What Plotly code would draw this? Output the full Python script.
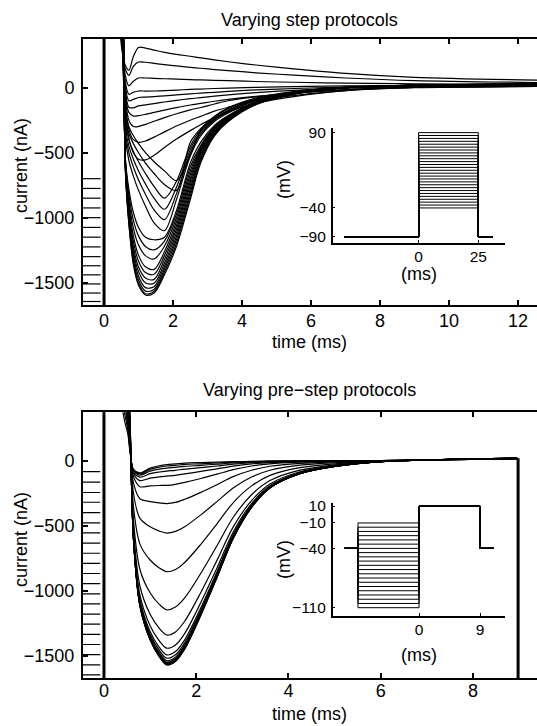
import plotly.graph_objects as go

# ---------------- data: top panel (varying step protocols) ----------------
step_time = [0.40, 0.50, 0.56, 0.62, 0.72, 0.85, 1.0, 1.2, 1.45, 1.75, 2.1, 2.5,
             2.8, 3.2, 3.6, 4.4, 5.5, 7.0, 9.0, 12.6]
step_currents = [
    [900, 330, 230, 170, 135, 240, 310, 305, 290, 272, 257, 242, 230, 214, 200, 175, 145, 110, 80, 58],
    [1000, 380, 230, 140, 95, 165, 198, 196, 188, 178, 168, 157, 150, 140, 132, 115, 97, 75, 55, 40],
    [1100, 420, 220, 90, 15, 50, 75, 75, 72, 69, 66, 62, 60, 57, 54, 48, 42, 35, 30, 25],
    [1200, 460, 210, 40, -50, -35, -25, -26, -25, -22, -18, -13, -10, -6, -3, 3, 8, 14, 18, 20],
    [1300, 500, 200, 10, -100, -90, -75, -72, -68, -62, -55, -47, -42, -35, -28, -17, -6, 5, 12, 16],
    [1400, 540, 200, -20, -150, -155, -140, -132, -122, -110, -97, -84, -76, -65, -55, -38, -20, -3, 8, 14],
    [1500, 580, 200, -50, -190, -218, -215, -205, -190, -172, -153, -133, -121, -104, -90, -67, -43, -15, 3, 12],
    [1600, 620, 200, -80, -250, -298, -298, -282, -258, -230, -200, -170, -152, -125, -100, -70, -42, -15, 2, 10],
    [1700, 660, 190, -120, -320, -400, -420, -410, -380, -340, -295, -250, -220, -180, -150, -100, -60, -22, 0, 10],
    [1800, 700, 180, -160, -390, -500, -550, -555, -520, -460, -395, -330, -285, -230, -185, -120, -68, -22, 2, 10],
    [1900, 740, 170, -180, -300, -370, -430, -500, -570, -640, -715, -520, -330, -220, -155, -80, -30, 2, 17, 24],
    [2000, 780, 160, -220, -350, -430, -500, -580, -660, -745, -790, -420, -315, -228, -162, -85, -33, 2, 17, 24],
    [2100, 820, 150, -260, -400, -490, -570, -660, -760, -850, -720, -450, -325, -238, -172, -88, -34, 2, 17, 25],
    [2200, 860, 140, -300, -450, -550, -640, -740, -850, -935, -765, -475, -340, -245, -180, -92, -36, 2, 18, 25],
    [2300, 900, 130, -340, -500, -610, -710, -820, -940, -1015, -815, -500, -355, -250, -185, -95, -37, 2, 18, 26],
    [2400, 940, 120, -380, -560, -680, -790, -910, -1040, -1100, -860, -525, -370, -260, -195, -100, -40, 2, 18, 26],
    [2500, 1300, 600, -650, -1050, -1360, -1520, -1595, -1580, -1440, -1220, -860, -580, -370, -260, -130, -50, 0, 20, 30],
    [2480, 1280, 580, -640, -1040, -1345, -1505, -1585, -1568, -1420, -1195, -832, -562, -362, -255, -128, -49, 0, 20, 30],
    [2460, 1260, 560, -630, -1020, -1320, -1480, -1565, -1552, -1398, -1168, -805, -545, -355, -251, -126, -48, 0, 20, 29],
    [2440, 1240, 540, -620, -1000, -1290, -1450, -1538, -1532, -1375, -1142, -778, -528, -347, -247, -124, -48, 0, 20, 29],
    [2420, 1220, 520, -610, -980, -1260, -1415, -1502, -1505, -1350, -1115, -750, -510, -340, -242, -121, -47, 0, 19, 28],
    [2400, 1200, 500, -600, -955, -1225, -1380, -1465, -1475, -1322, -1088, -722, -495, -332, -238, -119, -46, 0, 19, 28],
    [2380, 1180, 480, -590, -930, -1185, -1335, -1422, -1435, -1292, -1060, -695, -482, -323, -233, -117, -45, 0, 19, 27],
    [2360, 1160, 460, -580, -900, -1140, -1290, -1378, -1398, -1262, -1030, -668, -470, -315, -229, -115, -45, 0, 18, 27],
    [2340, 1140, 440, -570, -860, -1080, -1210, -1292, -1318, -1220, -1000, -640, -458, -308, -224, -113, -44, 0, 18, 26],
    [2320, 1120, 420, -560, -820, -1020, -1140, -1222, -1248, -1180, -972, -610, -445, -300, -219, -110, -43, 0, 18, 26],
    [2300, 1100, 400, -550, -780, -960, -1075, -1150, -1170, -1150, -945, -580, -420, -290, -214, -108, -42, 0, 17, 25],
]
step_base_time = [-0.61, -0.10]
step_base_levels = [-700, -775, -850, -925, -1000, -1075, -1150, -1225, -1300,
                    -1370, -1440, -1510, -1580, -1645]
step_onset_time = 0.0

# ---------------- data: bottom panel (varying pre-step protocols) ----------------
pre_time = [0.35, 0.45, 0.52, 0.57, 0.64, 0.78, 1.0, 1.2, 1.36, 1.55, 1.75, 2.1, 2.45,
            2.8, 3.2, 3.6, 4.25, 5.0, 6.0, 7.5, 8.96]
pre_currents = [
    [2500, 1500, 800, 250, -610, -1120, -1380, -1510, -1572, -1545, -1450, -1190, -900, -600, -360, -210, -100, -45, -8, 10, 18],
    [2400, 1440, 770, 240, -608, -1117, -1376, -1506, -1567, -1540, -1446, -1186, -897, -598, -359, -209, -100, -45, -8, 10, 18],
    [2300, 1380, 740, 230, -607, -1115, -1373, -1503, -1564, -1537, -1443, -1184, -896, -597, -358, -209, -100, -45, -8, 10, 18],
    [2200, 1320, 710, 220, -605, -1112, -1369, -1498, -1560, -1533, -1438, -1180, -893, -595, -357, -208, -99, -45, -8, 10, 18],
    [2100, 1260, 680, 210, -604, -1109, -1365, -1494, -1555, -1528, -1434, -1177, -890, -593, -356, -208, -99, -45, -8, 10, 18],
    [2000, 1200, 650, 200, -602, -1104, -1360, -1488, -1549, -1522, -1428, -1172, -887, -591, -355, -207, -99, -44, -8, 10, 18],
    [1900, 1140, 620, 190, -598, -1097, -1350, -1477, -1538, -1511, -1418, -1164, -880, -587, -352, -205, -98, -44, -8, 10, 18],
    [1800, 1080, 590, 180, -591, -1085, -1334, -1459, -1519, -1493, -1401, -1150, -869, -580, -348, -203, -97, -43, -8, 10, 18],
    [1700, 1020, 560, 170, -582, -1068, -1313, -1436, -1494, -1468, -1378, -1131, -855, -570, -342, -200, -95, -43, -8, 10, 18],
    [1600, 960, 530, 160, -564, -1034, -1269, -1386, -1442, -1417, -1330, -1091, -825, -550, -330, -193, -92, -41, -7, 10, 18],
    [1500, 900, 500, 150, -529, -966, -1182, -1290, -1341, -1317, -1235, -1014, -767, -511, -307, -179, -85, -38, -7, 10, 18],
    [1400, 840, 470, 140, -460, -837, -1016, -1105, -1147, -1126, -1056, -866, -655, -437, -262, -153, -73, -33, -6, 9, 17],
    [1300, 780, 440, 130, -357, -642, -764, -825, -854, -837, -783, -643, -486, -324, -194, -113, -54, -24, -4, 9, 17],
    [1200, 720, 410, 120, -253, -444, -509, -542, -557, -544, -508, -417, -315, -210, -126, -74, -35, -16, -3, 9, 16],
    [1100, 660, 380, 110, -173, -293, -315, -325, -330, -321, -297, -244, -185, -123, -74, -43, -21, -9, -2, 8, 16],
    [1000, 600, 350, 100, -123, -200, -194, -191, -190, -182, -167, -137, -104, -69, -41, -24, -12, -5, -1, 8, 15],
    [900, 540, 320, 90, -98, -153, -134, -124, -119, -113, -102, -83, -63, -42, -25, -15, -7, -3, 0, 8, 15],
    [800, 480, 290, 80, -85, -127, -100, -87, -80, -74, -65, -54, -41, -27, -16, -9, -5, -2, 0, 8, 15],
    [700, 420, 260, 70, -77, -111, -80, -65, -57, -51, -44, -36, -27, -18, -11, -6, -3, -1, 0, 8, 15],
    [600, 360, 230, 60, -71, -101, -67, -50, -41, -36, -29, -24, -18, -12, -7, -4, -2, -1, 0, 8, 15],
    [500, 300, 200, 50, -67, -94, -57, -39, -30, -25, -19, -15, -12, -8, -5, -3, -1, 0, 0, 8, 15],
]
pre_base_time = [-0.455, -0.08]
pre_base_levels = [-85, -165, -245, -320, -400, -478, -556, -634, -712, -790, -868,
                   -946, -1024, -1102, -1180, -1258, -1336, -1414, -1492, -1570, -1648]
pre_onset_time = 0.0
pre_offset_time = 8.98
pre_offset_level = 18

# ---------------- data: insets (voltage protocols) ----------------
step_hold = -90                       # mV
step_levels = [-40, -35, -30, -25, -20, -15, -10, -5, 0, 5, 10, 15, 20, 25, 30,
               35, 40, 45, 50, 55, 60, 65, 70, 75, 80, 85, 90]
step_protocol_t = [-31, 0, 25, 31]    # ms: start, step on, step off, end

pre_hold = -40
pre_test = 10
prestep_levels = [-110, -105, -100, -95, -90, -85, -80, -75, -70, -65, -60, -55,
                  -50, -45, -40, -35, -30, -25, -20, -15, -10]
pre_protocol_t = [-11, -9, 0, 9, 11]  # ms

# axis ticks
main_yticks = [0, -500, -1000, -1500]
top_xticks = [0, 2, 4, 6, 8, 10, 12]
bot_xticks = [0, 2, 4, 6, 8]

# ---------------- figure ----------------
W, H = 537, 726
FONT = "Liberation Sans, Arial, Helvetica, sans-serif"
FS = 18
FS_IN = 15.5
fig = go.Figure()

line_kw = dict(color="black", width=1.2, shape="spline", smoothing=0.9)
plain = dict(color="black", width=1.2)


def add(x, y, xa, ya, line):
    fig.add_trace(go.Scatter(x=x, y=y, xaxis=xa, yaxis=ya, mode="lines",
                             line=line, hoverinfo="skip", showlegend=False))


# top main
for lvl in step_base_levels:
    add(step_base_time, [lvl, lvl], "x", "y", plain)
add([step_onset_time, step_onset_time], [-2000, 2000], "x", "y", dict(color="black", width=3))
for cur in step_currents:
    add(step_time, cur, "x", "y", line_kw)

# bottom main
for lvl in pre_base_levels:
    add(pre_base_time, [lvl, lvl], "x2", "y2", plain)
add([pre_onset_time, pre_onset_time], [-2000, 2000], "x2", "y2", dict(color="black", width=3))
add([pre_offset_time, pre_offset_time], [pre_offset_level, -2000], "x2", "y2", dict(color="black", width=3))
for cur in pre_currents:
    add(pre_time, cur, "x2", "y2", line_kw)

# top inset: step protocol
t0, ton, toff, tend = step_protocol_t
for v in step_levels:
    add([t0, ton, ton, toff, toff, tend], [step_hold, step_hold, v, v, step_hold, step_hold],
        "x3", "y3", dict(color="black", width=1))

# bottom inset: pre-step protocol
p0, pon, ptest, poff, pend = pre_protocol_t
for v in prestep_levels:
    add([p0, pon, pon, ptest, ptest, poff, poff, pend],
        [pre_hold, pre_hold, v, v, pre_test, pre_test, pre_hold, pre_hold],
        "x4", "y4", dict(color="black", width=1))

X0 = 83 / W
main_ax = dict(showline=True, linecolor="black", linewidth=2, ticks="inside", ticklen=5,
               tickwidth=1.5, tickcolor="black", showgrid=False, zeroline=False,
               automargin=False, tickfont=dict(size=FS, family=FONT, color="black"))
inset_ax = dict(showline=True, linecolor="black", linewidth=1.5, ticks="inside", ticklen=3,
                tickwidth=1.2, tickcolor="black", showgrid=False, zeroline=False,
                automargin=False, tickfont=dict(size=FS_IN, family=FONT, color="black"))
right_ax = dict(showline=False, ticks="inside", ticklen=5, tickwidth=1.5, tickcolor="black",
                showticklabels=False, showgrid=False, zeroline=False, automargin=False)


def py(y):
    return 1 - y / H


fig.update_layout(
    width=W, height=H, margin=dict(l=0, r=0, t=0, b=0),
    paper_bgcolor="white", plot_bgcolor="rgba(0,0,0,0)", showlegend=False,
    font=dict(family=FONT, size=FS, color="black"),
    xaxis=dict(main_ax, domain=[X0, 1], anchor="y", range=[-0.61, 12.55],
               tickvals=top_xticks, mirror="ticks", ticklabelstandoff=-2),
    yaxis=dict(main_ax, domain=[py(305), py(39)], anchor="x", range=[-1672, 375],
               tickvals=main_yticks, ticklabelstandoff=3),
    xaxis2=dict(main_ax, domain=[X0, 1], anchor="y2", range=[-0.455, 9.39],
                tickvals=bot_xticks, mirror="ticks", ticklabelstandoff=-5),
    yaxis2=dict(main_ax, domain=[py(678.3), py(412.3)], anchor="x2", range=[-1674, 372],
                tickvals=main_yticks, ticklabelstandoff=3),
    xaxis3=dict(inset_ax, domain=[332.7 / W, 505 / W], anchor="y3", range=[-36, 36.2],
                tickvals=[0, 25], ticklabelstandoff=-1),
    yaxis3=dict(inset_ax, domain=[py(242.7), py(128)], anchor="x3", range=[-100, 98],
                tickvals=[-90, -40, 90], ticklabelstandoff=2),
    xaxis4=dict(inset_ax, domain=[332.7 / W, 505 / W], anchor="y4", range=[-12.73, 12.68],
                tickvals=[0, 9], ticklabelstandoff=-1),
    yaxis4=dict(inset_ax, domain=[py(616), py(502.7)], anchor="x4", range=[-119.8, 13.9],
                tickvals=[-110, -40, -10, 10], ticklabelstandoff=2),
    yaxis5=dict(right_ax, overlaying="y", side="right", anchor="x", range=[-1672, 375],
                tickvals=main_yticks),
    yaxis6=dict(right_ax, overlaying="y2", side="right", anchor="x2", range=[-1674, 372],
                tickvals=main_yticks),
)

annots = [
    ("Varying step protocols", 310, 20, 0, FS),
    ("Varying pre\u2212step protocols", 310, 390, 0, FS),
    ("current (nA)", 21, 166, -90, FS),
    ("current (nA)", 21, 540, -90, FS),
    ("time (ms)", 310, 342, 0, FS),
    ("time (ms)", 310, 714, 0, FS),
    ("(mV)", 284, 180, -90, FS),
    ("(ms)", 419, 274, 0, FS),
    ("(mV)", 284, 560, -90, FS),
    ("(ms)", 419, 655, 0, FS),
]
for text, x, y, ang, fs in annots:
    fig.add_annotation(text=text, x=x / W, y=py(y), xref="paper", yref="paper",
                       showarrow=False, textangle=ang, xanchor="center", yanchor="middle",
                       font=dict(size=fs, family=FONT, color="black"))

fig.write_html("out.html")
